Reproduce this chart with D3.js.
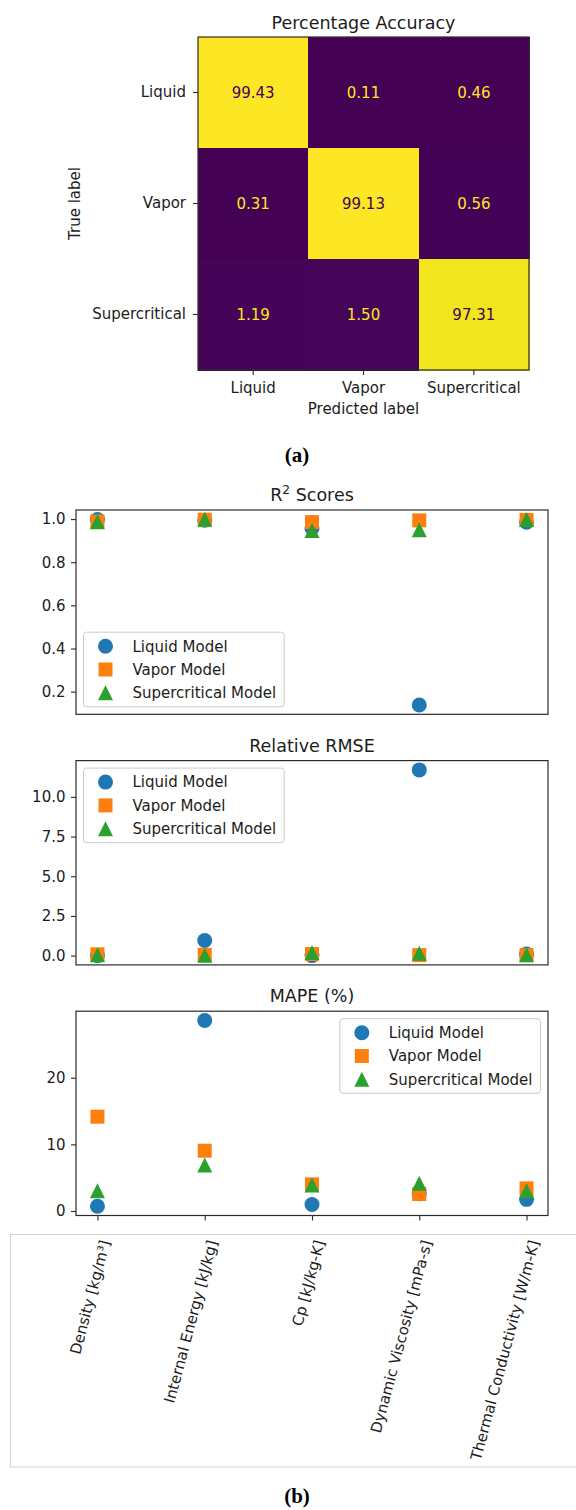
<!DOCTYPE html>
<html>
<head>
<meta charset="utf-8">
<script src="https://cdn.jsdelivr.net/npm/d3@7"></script>
<style>
  body { margin: 0; background: #fff; }
  svg text { font-family: "DejaVu Sans", sans-serif; }
</style>
</head>
<body>
<svg id="fig" width="576" height="1510"></svg>
<script>
// ---------- data ----------
// Phase classifier: percentage of each true phase assigned to each predicted phase
const classes = ["Liquid", "Vapor", "Supercritical"];
const accuracyLiquid = [99.43, 0.11, 0.46];
const accuracyVapor = [0.31, 99.13, 0.56];
const accuracySupercritical = [1.19, 1.50, 97.31];

// Regression targets
const propertyLabels = [
  "Density [kg/m\u00B3]",
  "Internal Energy [kJ/kg]",
  "Cp [kJ/kg-K]",
  "Dynamic Viscosity [mPa-s]",
  "Thermal Conductivity [W/m-K]"
];
const modelNames = ["Liquid Model", "Vapor Model", "Supercritical Model"];

const r2Liquid = [0.998, 0.995, 0.958, 0.138, 0.985];
const r2Vapor = [0.989, 0.997, 0.986, 0.994, 0.996];
const r2Supercritical = [0.988, 0.999, 0.947, 0.950, 0.998];

const rmseLiquid = [0.00, 0.95, 0.00, 11.70, 0.10];
const rmseVapor = [0.08, 0.05, 0.10, 0.03, 0.03];
const rmseSupercritical = [0.05, 0.03, 0.20, 0.15, 0.05];

const mapeLiquid = [0.72, 28.59, 0.98, 2.60, 1.75];
const mapeVapor = [14.15, 9.05, 4.00, 2.55, 3.40];
const mapeSupercritical = [3.05, 6.90, 3.90, 4.15, 3.05];

const r2Ticks = [0.2, 0.4, 0.6, 0.8, 1.0];
const rmseTicks = [0.0, 2.5, 5.0, 7.5, 10.0];
const mapeTicks = [0, 10, 20];

// ---------- setup ----------
const svg = d3.select("#fig");
const INK = "#1c1c1c";
const SPINE = "#2a2a2a";
const TICK_FS = 15;
const TITLE_FS = 17.5;
const colors = ["#1f77b4", "#ff7f0e", "#2ca02c"];
const shapes = ["circle", "square", "triangle"];

function markerPath(shape) {
  const r = 7.5;
  if (shape === "circle") return d3.symbol(d3.symbolCircle, Math.PI * r * r)();
  if (shape === "square") { const s = 7; return `M${-s},${-s}H${s}V${s}H${-s}Z`; }
  return `M0,${-r}L${r},${r}L${-r},${r}Z`;
}

// ---------- (a) confusion matrix ----------
const accuracy = [accuracyLiquid, accuracyVapor, accuracySupercritical];
const cmBox = { x0: 198, x1: 529, y0: 37, y1: 370 };
const cx = d3.scaleBand().domain(classes).range([cmBox.x0, cmBox.x1]);
const cy = d3.scaleBand().domain(classes).range([cmBox.y0, cmBox.y1]);
const flat = accuracy.flat();
const vExt = d3.extent(flat);
const viridis = d3.scaleSequential(d3.interpolateViridis).domain(vExt);
const cells = classes.flatMap((t, i) => classes.map((p, j) => ({ t, p, v: accuracy[i][j] })));

const gA = svg.append("g");
gA.selectAll("rect.cell").data(cells).join("rect")
  .attr("class", "cell")
  .attr("x", d => cx(d.p)).attr("y", d => cy(d.t))
  .attr("width", cx.bandwidth() + 0.5).attr("height", cy.bandwidth() + 0.5)
  .attr("shape-rendering", "crispEdges")
  .attr("fill", d => viridis(d.v));

const midV = (vExt[0] + vExt[1]) / 2;
gA.selectAll("text.val").data(cells).join("text")
  .attr("class", "val")
  .attr("x", d => cx(d.p) + cx.bandwidth() / 2)
  .attr("y", d => cy(d.t) + cy.bandwidth() / 2)
  .attr("dy", "0.36em")
  .attr("text-anchor", "middle")
  .attr("font-size", TICK_FS)
  .attr("fill", d => d.v < midV ? viridis(vExt[1]) : viridis(vExt[0]))
  .text(d => d3.format(".2f")(d.v));

gA.append("rect")
  .attr("x", cmBox.x0).attr("y", cmBox.y0)
  .attr("width", cmBox.x1 - cmBox.x0).attr("height", cmBox.y1 - cmBox.y0)
  .attr("fill", "none").attr("stroke", SPINE).attr("stroke-width", 1.2);

function styleAxis(g) {
  g.select(".domain").remove();
  g.selectAll(".tick line").attr("stroke", SPINE).attr("stroke-width", 1.1);
  g.selectAll(".tick text").attr("fill", INK).attr("font-size", TICK_FS)
    .attr("font-family", "DejaVu Sans, sans-serif");
}

gA.append("g").attr("transform", `translate(0,${cmBox.y1})`)
  .call(d3.axisBottom(cx).tickSize(5).tickPadding(7)).call(styleAxis);
gA.append("g").attr("transform", `translate(${cmBox.x0},0)`)
  .call(d3.axisLeft(cy).tickSize(5).tickPadding(7)).call(styleAxis);

gA.append("text")
  .attr("x", (cmBox.x0 + cmBox.x1) / 2).attr("y", 28.5)
  .attr("text-anchor", "middle").attr("font-size", TITLE_FS).attr("fill", INK)
  .text("Percentage Accuracy");
gA.append("text")
  .attr("x", (cmBox.x0 + cmBox.x1) / 2).attr("y", 414)
  .attr("text-anchor", "middle").attr("font-size", TICK_FS).attr("fill", INK)
  .text("Predicted label");
gA.append("text")
  .attr("transform", `translate(80,${(cmBox.y0 + cmBox.y1) / 2}) rotate(-90)`)
  .attr("text-anchor", "middle").attr("font-size", TICK_FS).attr("fill", INK)
  .text("True label");

svg.append("text")
  .attr("x", 297).attr("y", 462)
  .attr("text-anchor", "middle")
  .style("font-family", "'Liberation Serif', serif")
  .attr("font-weight", "bold").attr("font-size", 21).attr("fill", "#000")
  .text("(a)");

// ---------- (b) regression metrics ----------
const axLeft = 76, axRight = 548, axH = 204.3;
const x = d3.scaleLinear()
  .domain([-0.2, propertyLabels.length - 1 + 0.2])
  .range([axLeft, axRight]);
const idx = d3.range(propertyLabels.length);

function paddedDomain(series) {
  const ext = d3.extent(series.flat());
  const pad = (ext[1] - ext[0]) * 0.05;
  return [ext[0] - pad, ext[1] + pad];
}

function metricPanel(opts) {
  const { top, series, ticks, fmt, title, legendPos, showXTicks } = opts;
  const y = d3.scaleLinear().domain(paddedDomain(series)).range([top + axH, top]);
  const g = svg.append("g");

  // title
  const t = g.append("text")
    .attr("x", (axLeft + axRight) / 2).attr("y", top - 9)
    .attr("text-anchor", "middle").attr("font-size", TITLE_FS).attr("fill", INK);
  title(t);

  // y axis
  g.append("g").attr("transform", `translate(${axLeft},0)`)
    .call(d3.axisLeft(y).tickValues(ticks).tickFormat(d3.format(fmt)).tickSize(5).tickPadding(5.5))
    .call(styleAxis);

  if (showXTicks) {
    g.append("g").attr("transform", `translate(0,${top + axH})`)
      .call(d3.axisBottom(x).tickValues(idx).tickFormat("").tickSize(5))
      .call(styleAxis);
  }

  // points: one marker shape per model
  series.forEach((vals, m) => {
    g.append("g").selectAll("path").data(vals).join("path")
      .attr("d", markerPath(shapes[m]))
      .attr("transform", (v, i) => `translate(${x(i)},${y(v)})`)
      .attr("fill", colors[m]);
  });

  // frame
  g.append("rect")
    .attr("x", axLeft).attr("y", top).attr("width", axRight - axLeft).attr("height", axH)
    .attr("fill", "none").attr("stroke", SPINE).attr("stroke-width", 1.2);

  // legend
  const lg = g.append("g");
  const box = lg.append("rect").attr("fill", "#fff").attr("fill-opacity", 0.8)
    .attr("stroke", "#cccccc").attr("stroke-width", 1).attr("rx", 3);
  const rowGap = 23.3, firstRow = 14;
  const labels = modelNames.map((name, m) => {
    lg.append("path").attr("d", markerPath(shapes[m]))
      .attr("transform", `translate(22,${firstRow + m * rowGap})`)
      .attr("fill", colors[m]);
    return lg.append("text").attr("x", 49).attr("y", firstRow + m * rowGap)
      .attr("dy", "0.36em").attr("font-size", TICK_FS).attr("fill", INK).text(name);
  });
  const textW = d3.max(labels, l => l.node().getComputedTextLength());
  const lw = 49 + textW + 8, lh = firstRow * 2 + rowGap * 2;
  box.attr("width", lw).attr("height", lh);
  let lx, ly;
  if (legendPos === "lower left") { lx = axLeft + 7.5; ly = top + axH - 7.5 - lh; }
  else if (legendPos === "upper left") { lx = axLeft + 7.5; ly = top + 7.5; }
  else { lx = axRight - 7.5 - lw; ly = top + 7.5; }
  lg.attr("transform", `translate(${lx},${ly})`);
  return y;
}

const tops = [510, 760.6, 1011.2];

metricPanel({
  top: tops[0], series: [r2Liquid, r2Vapor, r2Supercritical], ticks: r2Ticks, fmt: ".1f",
  title: t => { t.append("tspan").text("R");
    t.append("tspan").attr("font-size", TITLE_FS * 0.7).attr("dy", -7).text("2");
    t.append("tspan").attr("dy", 7).text(" Scores"); },
  legendPos: "lower left", showXTicks: false
});
metricPanel({
  top: tops[1], series: [rmseLiquid, rmseVapor, rmseSupercritical], ticks: rmseTicks, fmt: ".1f",
  title: t => t.text("Relative RMSE"), legendPos: "upper left", showXTicks: false
});
metricPanel({
  top: tops[2], series: [mapeLiquid, mapeVapor, mapeSupercritical], ticks: mapeTicks, fmt: "d",
  title: t => t.text("MAPE (%)"), legendPos: "upper right", showXTicks: true
});

// rotated property labels in their own bordered strip
svg.append("rect")
  .attr("x", 10.5).attr("y", 1234.5).attr("width", 580).attr("height", 232.5)
  .attr("fill", "none").attr("stroke", "#d2d2d2").attr("stroke-width", 1);

svg.append("g").selectAll("text").data(propertyLabels).join("text")
  .attr("transform", (d, i) => `translate(${x(i) + 2},1239) rotate(-75)`)
  .attr("text-anchor", "end")
  .attr("dominant-baseline", "hanging")
  .attr("font-size", TICK_FS).attr("fill", INK)
  .text(d => d);

svg.append("text")
  .attr("x", 297).attr("y", 1503)
  .attr("text-anchor", "middle")
  .style("font-family", "'Liberation Serif', serif")
  .attr("font-weight", "bold").attr("font-size", 21).attr("fill", "#000")
  .text("(b)");
</script>
</body>
</html>
